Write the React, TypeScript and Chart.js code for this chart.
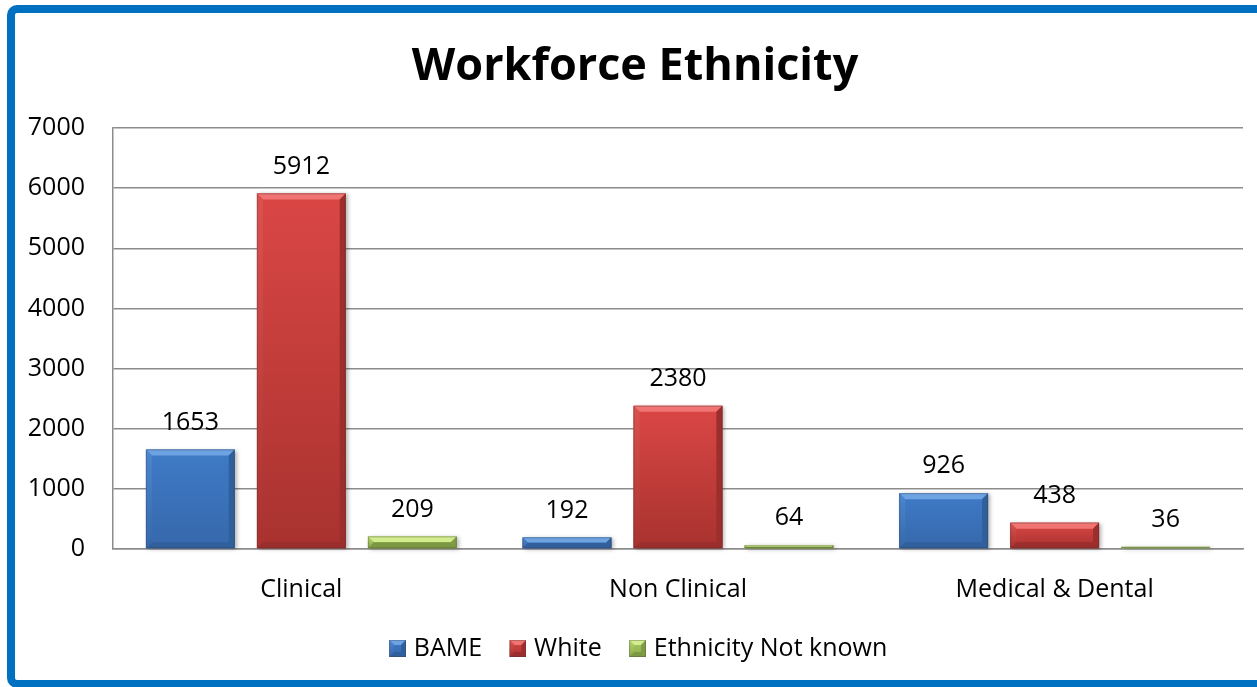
import React, { useEffect, useRef } from "react";
import { Chart, registerables } from "chart.js";

Chart.register(...registerables);

const categories = ["Clinical", "Non Clinical", "Medical & Dental"];
const seriesNames = ["BAME", "White", "Ethnicity Not known"];
const bameValues = [1653, 192, 926];
const whiteValues = [5912, 2380, 438];
const unknownValues = [209, 64, 36];
const yTickMin = 0;
const yTickMax = 7000;
const yTickStep = 1000;

type Palette = { top: string; bottom: string; hi: string; left: string; right: string; low: string };

const palettes: Palette[] = [
  { top: "#3F7BC7", bottom: "#3668AB", hi: "#6EA3E3", left: "#4C86CF", right: "#30609C", low: "#315F9C" },
  { top: "#DA4745", bottom: "#A8322F", hi: "#F07472", left: "#DA5250", right: "#9C2E2C", low: "#9A2E2C" },
  { top: "#A7CA60", bottom: "#8CAB49", hi: "#D2EC8E", left: "#B3D46E", right: "#7F9B44", low: "#7C9842" },
];

const FONT = "'Open Sans', 'Noto Sans', sans-serif";
const TXT = 25;

function drawBevel(ctx: CanvasRenderingContext2D, l: number, t: number, r: number, b: number, p: Palette, bev: number, shadow: boolean) {
  const w = r - l;
  const h = b - t;
  if (w <= 0 || h <= 0) return;
  const bv = Math.max(0, Math.min(bev, w / 2, h / 2));
  ctx.save();
  if (shadow) {
    ctx.shadowColor = "rgba(0,0,0,0.3)";
    ctx.shadowBlur = 4;
    ctx.shadowOffsetX = 2;
    ctx.shadowOffsetY = 1;
  }
  const g = ctx.createLinearGradient(0, t, 0, b);
  g.addColorStop(0, p.top);
  g.addColorStop(1, p.bottom);
  ctx.fillStyle = g;
  ctx.fillRect(l, t, w, h);
  ctx.restore();
  if (bv >= 1) {
    const poly = (pts: number[][], color: any) => {
      ctx.beginPath();
      ctx.moveTo(pts[0][0], pts[0][1]);
      for (let i = 1; i < pts.length; i++) ctx.lineTo(pts[i][0], pts[i][1]);
      ctx.closePath();
      ctx.fillStyle = color;
      ctx.fill();
    };
    ctx.save();
    poly([[l, t], [r, t], [r - bv, t + bv], [l + bv, t + bv]], p.hi);
    const gl = ctx.createLinearGradient(0, t, 0, b);
    gl.addColorStop(0, p.left);
    gl.addColorStop(1, p.bottom);
    poly([[l, t], [l + bv, t + bv], [l + bv, b - bv], [l, b]], gl);
    poly([[r, t], [r, b], [r - bv, b - bv], [r - bv, t + bv]], p.right);
    poly([[l, b], [l + bv, b - bv], [r - bv, b - bv], [r, b]], p.low);
    ctx.restore();
  }
  ctx.save();
  ctx.strokeStyle = "rgba(60,60,60,0.3)";
  ctx.lineWidth = 1;
  ctx.strokeRect(l + 0.5, t + 0.5, w - 1, h - 1);
  ctx.restore();
}

const LEGEND_BOX = 18.5;
const MARKER = 17;
const MARKER_IMG_W = 28;

function makeMarker(p: Palette): HTMLCanvasElement {
  const c = document.createElement("canvas");
  c.width = MARKER_IMG_W;
  c.height = MARKER;
  const ctx = c.getContext("2d")!;
  drawBevel(ctx, c.width - MARKER, 0, c.width, MARKER, p, 5, false);
  return c;
}

const bevelPlugin = {
  id: "bevelBars",
  afterDatasetsDraw(chart: any) {
    const ctx = chart.ctx as CanvasRenderingContext2D;
    chart.data.datasets.forEach((ds: any, di: number) => {
      const meta = chart.getDatasetMeta(di);
      meta.data.forEach((el: any, i: number) => {
        const { x, y, base, width } = el.getProps(["x", "y", "base", "width"], true);
        const l = x - width / 2;
        const r = x + width / 2;
        drawBevel(ctx, l, Math.min(y, base), r, Math.max(y, base), palettes[di], 6, true);
        ctx.save();
        ctx.font = `${TXT}px ${FONT}`;
        ctx.fillStyle = "#000";
        ctx.textAlign = "center";
        ctx.textBaseline = "middle";
        ctx.fillText(String(ds.data[i]), x, y - 27);
        ctx.restore();
      });
    });
  },
};

export default function App() {
  const ref = useRef<HTMLCanvasElement>(null);
  useEffect(() => {
    document.body.style.margin = "0";
    const markers = palettes.map(makeMarker);
    const chart = new Chart(ref.current!, {
      type: "bar",
      data: {
        labels: categories,
        datasets: [
          { label: seriesNames[0], data: bameValues, backgroundColor: palettes[0].top },
          { label: seriesNames[1], data: whiteValues, backgroundColor: palettes[1].top },
          { label: seriesNames[2], data: unknownValues, backgroundColor: palettes[2].top },
        ],
      },
      options: {
        responsive: false,
        animation: false,
        devicePixelRatio: 1,
        layout: { padding: { left: 27, right: 14, top: 40, bottom: 16 } },
        datasets: { bar: { categoryPercentage: 0.884, barPercentage: 0.8, borderWidth: 0 } },
        plugins: {
          title: {
            display: true,
            text: "Workforce Ethnicity",
            color: "#000",
            font: { family: FONT, size: 45, weight: "bold" },
            padding: { top: 0, bottom: 34 },
          },
          legend: {
            position: "bottom",
            labels: {
              usePointStyle: true,
              boxWidth: LEGEND_BOX,
              boxHeight: MARKER,
              padding: 21,
              color: "#000",
              font: { family: FONT, size: TXT },
              generateLabels: (c: any) => {
                const items = (Chart.defaults.plugins.legend.labels as any).generateLabels(c);
                return items.map((it: any, i: number) => ({ ...it, pointStyle: markers[i] }));
              },
            },
          },
          tooltip: { enabled: false },
        },
        scales: {
          x: {
            grid: { display: false, drawTicks: false },
            border: { display: true, color: "#8c8c8c", width: 1.5 },
            ticks: { color: "#000", font: { family: FONT, size: TXT }, padding: 26 },
            afterFit: (s: any) => {
              s.height = 66;
            },
          },
          y: {
            min: yTickMin,
            max: yTickMax,
            ticks: {
              stepSize: yTickStep,
              color: "#000",
              font: { family: FONT, size: TXT },
              padding: 28,
              callback: (v: any) => String(v),
            },
            grid: { color: "#8c8c8c", lineWidth: 1.5, drawTicks: false },
            border: { display: true, color: "#8c8c8c", width: 1.5 },
            afterFit: (s: any) => {
              s.width = 86;
            },
          },
        },
      },
      plugins: [bevelPlugin],
    });
    return () => chart.destroy();
  }, []);
  return (
    <div>
      <canvas ref={ref} width={1257} height={687} style={{ position: "fixed", left: 0, top: 0 }} />
      <div
        style={{
          position: "fixed",
          left: 7,
          top: 5,
          width: 1300,
          height: 683,
          boxSizing: "border-box",
          border: "8px solid #0070C0",
          borderRadius: 10,
          pointerEvents: "none",
        }}
      />
    </div>
  );
}
